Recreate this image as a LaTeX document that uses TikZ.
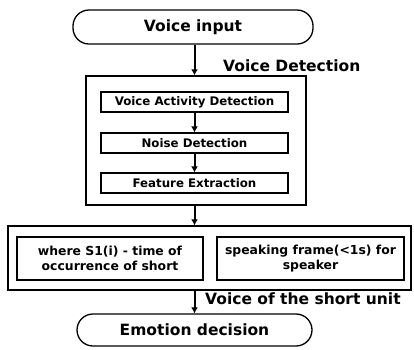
\documentclass[tikz,border=0pt]{standalone}
\usepackage{fontspec}
\setmainfont{DejaVu Sans}
\usepackage{tikz}
\usetikzlibrary{arrows.meta}

\begin{document}
\begin{tikzpicture}[x=1pt, y=-1pt,
    terminal/.style={draw, line width=1.3pt, rounded corners=16pt, font=\bfseries\fontsize{15.5}{18}\selectfont},
    outerbox/.style={draw, line width=1.3pt},
    stepbox/.style={draw, line width=1.1pt, minimum width=187pt, minimum height=20pt, inner sep=1pt, font=\bfseries\fontsize{11.8}{13}\selectfont},
    notebox/.style={draw, line width=1.1pt, minimum width=186pt, minimum height=43pt, inner sep=1pt, align=center, font=\bfseries\fontsize{12.4}{14.5}\selectfont},
    caption/.style={anchor=west, inner sep=0pt, font=\bfseries\fontsize{15.5}{18}\selectfont},
    flow/.style={line width=2pt, -{Latex[length=6pt,width=7pt]}}]
    \useasboundingbox (0,0) rectangle (414,349);

    \node [terminal, minimum width=240pt, minimum height=34pt] (input) at (193,27) {Voice input};
    \node [outerbox, minimum width=220pt, minimum height=129pt] (detect) at (196,140.5) {};
    \node [stepbox] (vad) at (194.5,102) {Voice Activity Detection};
    \node [stepbox] (noise) at (194.5,143) {Noise Detection};
    \node [stepbox] (feature) at (194.5,183) {Feature Extraction};

    \node [outerbox, minimum width=403pt, minimum height=64pt] (unit) at (209.5,258) {};
    \node [notebox] (where) at (110,258.5) {where S1(i) - time of\\occurrence of short};
    \node [notebox, minimum width=187pt] (frame) at (310.5,258.5) {speaking frame(<1s) for\\speaker};

    \node [terminal, minimum width=235pt, minimum height=32pt] (emotion) at (194.5,330) {Emotion decision};

    \node [caption] (vdlabel) at (223,66) {Voice Detection};
    \node [caption] (unitlabel) at (205,299) {Voice of the short unit};

    \draw [flow] (input.south -| vad.south) -- (vad.south |- detect.north);
    \draw [flow] (vad.south) -- (noise.north);
    \draw [flow] (noise.south) -- (feature.north);
    \draw [flow] (vad.south |- detect.south) -- (vad.south |- unit.north);
    \draw [flow] (vad.south |- unit.south) -- (vad.south |- emotion.north);
\end{tikzpicture}
\end{document}
